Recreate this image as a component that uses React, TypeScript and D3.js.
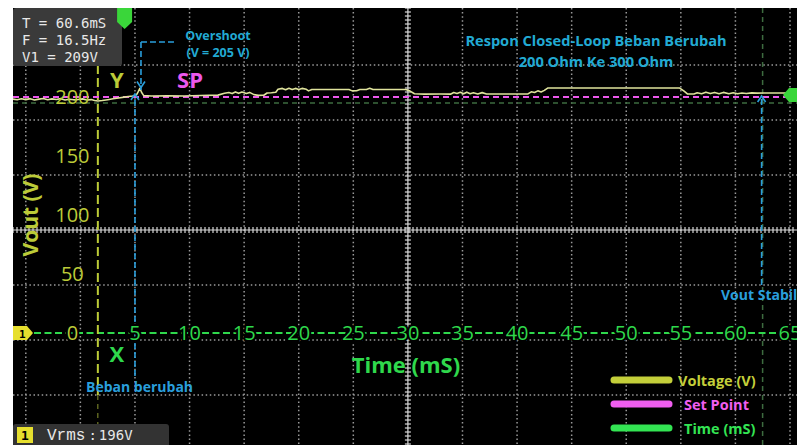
import React from 'react';
import * as d3 from 'd3';

const W = 797;
const H = 445;

// Voltage trace (time in ms, voltage in V)
const timeMs = [
  -6.2, -5.8, -5.4, -5.0, -4.6, -4.2, -3.8, -3.4, -3.0, -2.6, -2.2, -1.8, -1.4, -1.0, -0.6, -0.2, 0.2, 0.6, 1.0, 1.3, 1.6,
  2.0, 2.5, 3.0, 3.5, 4.0, 4.4, 4.8, 5.15, 5.3, 5.45, 5.6, 5.8, 6.5, 8.0, 9.5, 11.0, 12.6,
  13.2, 13.6, 13.9, 14.2, 14.5, 14.8, 15.2, 15.5, 15.9, 16.3, 16.8, 17.1, 17.5, 17.9,
  18.1, 18.5, 18.8, 19.1, 19.4, 19.7, 20.0, 20.3, 20.7, 20.9, 21.2, 22.5, 24.0, 24.6, 24.9, 25.3, 25.6, 26.2, 26.5, 26.8, 28.5, 29.8,
  30.2, 30.6, 31.5, 33.0, 33.9, 34.2, 34.5, 34.8, 35.1, 35.4, 35.7, 36.0, 36.4, 36.8, 37.2, 39.0, 41.0,
  41.3, 41.6, 41.9, 42.2, 42.5, 42.8, 48.0, 54.9, 55.3, 55.6, 56.2, 56.5, 56.9, 57.3, 57.7, 58.1, 58.5, 58.9, 59.4, 59.8,
  60.2, 60.6, 61.0, 61.5, 62.0, 63.5, 65.7,
];
const voltage = [
  198.3, 197.6, 198.5, 197.8, 198.6, 197.5, 198.2, 198.7, 197.7, 198.4, 197.9, 198.6, 197.4, 198.1, 197.6, 197.9, 198.4, 197.5, 197.8, 197.1, 196.6,
  197.0, 197.7, 198.5, 199.2, 199.9, 200.4, 200.8, 202.0, 204.5, 207.4, 204.0, 201.2, 200.9, 201.1, 200.9, 201.3, 201.6,
  203.2, 203.8, 202.9, 204.3, 203.1, 204.2, 203.0, 203.9, 202.0, 201.4, 201.5, 203.4, 203.6, 204.0,
  206.6, 207.3, 206.2, 207.4, 206.3, 207.3, 206.4, 207.3, 206.5, 205.2, 206.4, 206.3, 206.3, 206.4, 205.2, 205.3, 206.3, 206.4, 207.4, 206.3, 206.3, 206.3,
  205.0, 202.8, 202.4, 202.5, 202.4, 203.8, 203.0, 204.0, 202.7, 204.1, 202.8, 203.6, 202.6, 203.7, 202.5, 202.5, 202.6,
  204.4, 203.8, 205.2, 204.3, 205.6, 207.6, 207.6, 207.6, 205.0, 202.6, 202.6, 203.6, 202.7, 204.1, 202.9, 203.9, 202.8, 203.9, 202.8, 203.6,
  202.8, 203.4, 202.9, 203.5, 203.3, 203.4, 203.4,
];
const setPoint = 200;
const triggerLevel = 195;

const yTicks = [0, 50, 100, 150, 200];
const xTicks = [5, 10, 15, 20, 25, 30, 35, 40, 45, 50, 55, 60, 65];
const gridTimes = [-5, 0, 5, 10, 15, 20, 25, 35, 40, 45, 50, 55, 60, 65];
const gridRows = [-3, -2, -1, 1, 2, 3];
const centerTime = 30;

const infoLines = ['T = 60.6mS', 'F = 16.5Hz', 'V1 = 209V'];
const titleLines = ['Respon Closed-Loop Beban Berubah', '200 Ohm Ke 300 Ohm'];
const overshootLines = ['Overshoot', '(V = 205 V)'];
const legendLabels = ['Voltage (V)', 'Set Point', 'Time (mS)'];
const legendColors = ['#c4cf3a', '#f05ef0', '#33e453'];

const cursorYTime = 1.6;
const loadChangeTime = 5;
const overshootTime = 5.55;
const stableTime = 62.4;
const triggerTime = 4.05;

const YG = '#bccb38';
const GREEN = '#2fd84c';
const MAG = '#ec58ec';
const BLUE = '#2a9fdc';
const CYAN = '#22aad3';
const FONT = "'Open Sans', 'DejaVu Sans', sans-serif";
const MONO = "'DejaVu Sans Mono', monospace";

export default function App() {
  const x = d3.scaleLinear().domain([-5, 65]).range([25.8, 790]);
  const y = d3.scaleLinear().domain([0, 200]).range([333, 97]);
  const div = d3.scaleLinear().domain([-4, 4]).range([10, 450]);

  const left = 13;
  const top = 8;

  const pts: [number, number][] = timeMs.map((t, i) => [t, voltage[i]]);
  const line = d3
    .line<[number, number]>()
    .x((d) => x(d[0]))
    .y((d) => y(d[1]));

  const cx = x(centerTime);
  const cy = div(0);
  const ticksV = d3.range(top, H, 4);
  const ticksH = d3.range(left, W, 4);

  const xY = x(cursorYTime);
  const xL = x(loadChangeTime);
  const xO = x(overshootTime);
  const xS = x(stableTime);
  const ySP = y(setPoint);

  const chevUp = (px: number, py: number) => `M${px - 4},${py + 6} L${px},${py} L${px + 4},${py + 6}`;
  const chevDown = (px: number, py: number) => `M${px - 4},${py - 6} L${px},${py} L${px + 4},${py - 6}`;

  return (
    <svg
      width={W}
      height={H}
      style={{ position: 'fixed', left: 0, top: 0, display: 'block' }}
      xmlns="http://www.w3.org/2000/svg"
    >
      <defs>
        <clipPath id="screen">
          <rect x={left} y={top} width={W - left} height={H - top} />
        </clipPath>
      </defs>
      <rect x={0} y={0} width={W} height={H} fill="#ffffff" />
      <rect x={left} y={top} width={W - left} height={H - top} fill="#000000" />

      <g clipPath="url(#screen)">
        {/* dotted grid */}
        {gridTimes.map((t) => (
          <line key={'gv' + t} x1={x(t)} x2={x(t)} y1={top} y2={H} stroke="#9a9a9a" strokeWidth={1.5} strokeDasharray="1.5 2.6" />
        ))}
        {gridRows.map((r) => (
          <line key={'gh' + r} x1={left} x2={W} y1={div(r)} y2={div(r)} stroke="#9a9a9a" strokeWidth={1.5} strokeDasharray="1.5 2.6" />
        ))}
        {/* center crosshair */}
        <line x1={cx} x2={cx} y1={top} y2={H} stroke="#d8d8d8" strokeWidth={1.2} />
        <line x1={left} x2={W} y1={cy} y2={cy} stroke="#d8d8d8" strokeWidth={1.2} />
        {ticksV.map((v) => (
          <line key={'tv' + v} x1={cx - 3} x2={cx + 3} y1={v} y2={v} stroke="#d8d8d8" strokeWidth={1.2} />
        ))}
        {ticksH.map((h) => (
          <line key={'th' + h} x1={h} x2={h} y1={cy - 3} y2={cy + 3} stroke="#d8d8d8" strokeWidth={1.2} />
        ))}

        {/* trigger level */}
        <line x1={left} x2={W} y1={y(triggerLevel)} y2={y(triggerLevel)} stroke="#3d6b3f" strokeWidth={1.5} strokeDasharray="5 4" />
        {/* stable cursor (dim green) */}
        <line x1={xS + 1} x2={xS + 1} y1={top} y2={H} stroke="#3d6b3f" strokeWidth={1.5} strokeDasharray="5 4" />

        {/* zero / time axis line */}
        <line x1={left} x2={W} y1={y(0)} y2={y(0)} stroke={GREEN} strokeWidth={2} strokeDasharray="7 3.5" />

        {/* Y cursor */}
        <line x1={xY} x2={xY} y1={div(-3)} y2={div(3)} stroke={YG} strokeWidth={2} strokeDasharray="9 4" />
        <line x1={xY} x2={xY} y1={div(3)} y2={H} stroke="#8a9530" strokeWidth={1} strokeDasharray="5 4" />

        {/* Set point */}
        <line x1={left} x2={W} y1={ySP} y2={ySP} stroke={MAG} strokeWidth={2} strokeDasharray="6 4" />

        {/* Voltage trace */}
        <path d={line(pts) || ''} fill="none" stroke="#dfe39c" strokeWidth={1.6} strokeLinejoin="round" />

        {/* Load change line */}
        <line x1={xL} x2={xL} y1={ySP + 3} y2={377} stroke={BLUE} strokeWidth={1.6} strokeDasharray="6 3" />
        <path d={chevUp(xL, ySP - 3)} fill="none" stroke={BLUE} strokeWidth={1.6} />

        {/* Overshoot annotation */}
        <line x1={xO} x2={xO} y1={42} y2={y(206)} stroke={BLUE} strokeWidth={1.6} strokeDasharray="6 3" />
        <line x1={xO} x2={xO + 36} y1={42} y2={42} stroke={BLUE} strokeWidth={1.6} strokeDasharray="6 3" />
        <path d={chevDown(xO, y(208))} fill="none" stroke={BLUE} strokeWidth={1.6} />

        {/* Stable line */}
        <line x1={xS} x2={xS} y1={ySP + 2} y2={286} stroke={BLUE} strokeWidth={1.6} strokeDasharray="6 3" />
        <path d={chevUp(xS, ySP - 1)} fill="none" stroke={BLUE} strokeWidth={1.6} />

        {/* Y tick labels */}
        {yTicks.map((v) => (
          <text
            key={'yt' + v}
            x={x(0) - 8}
            y={y(v) + 7}
            textAnchor="middle"
            fontFamily={FONT}
            fontSize={20}
            fill={YG}
            stroke="#000"
            strokeWidth={v === 0 ? 4 : 0}
            paintOrder="stroke"
          >
            {v}
          </text>
        ))}
        {/* X tick labels */}
        {xTicks.map((t) => (
          <text
            key={'xt' + t}
            x={x(t)}
            y={y(0) + 7}
            textAnchor="middle"
            fontFamily={FONT}
            fontSize={20}
            fill={GREEN}
            stroke="#000"
            strokeWidth={4}
            paintOrder="stroke"
          >
            {t}
          </text>
        ))}

        {/* Axis titles */}
        <text
          transform={`translate(38,${y(100)}) rotate(-90)`}
          textAnchor="middle"
          fontFamily={FONT}
          fontWeight="bold"
          fontSize={21}
          fill={YG}
        >
          Vout (V)
        </text>
        <text x={x(30) - 2} y={373} textAnchor="middle" fontFamily={FONT} fontWeight="bold" fontSize={22} fill={GREEN}>
          Time (mS)
        </text>

        {/* Cursor letters */}
        <text x={xY + 19} y={88} textAnchor="middle" fontFamily={FONT} fontWeight="bold" fontSize={22} fill={YG}>
          Y
        </text>
        <text x={xY + 19} y={362} textAnchor="middle" fontFamily={FONT} fontWeight="bold" fontSize={22} fill={GREEN}>
          X
        </text>
        <text x={190} y={88} textAnchor="middle" fontFamily={FONT} fontWeight="bold" fontSize={22} fill={MAG}>
          SP
        </text>

        {/* annotations */}
        {overshootLines.map((s, i) => (
          <text key={s} x={218} y={40 + i * 17} textAnchor="middle" fontFamily={FONT} fontWeight="bold" fontSize={12.5} fill={CYAN}>
            {s}
          </text>
        ))}
        {titleLines.map((s, i) => (
          <text key={s} x={596} y={46 + i * 21} textAnchor="middle" fontFamily={FONT} fontWeight="bold" fontSize={14.6} fill={CYAN}>
            {s}
          </text>
        ))}
        <text x={86} y={392} fontFamily={FONT} fontWeight="bold" fontSize={14} fill={BLUE}>
          Beban berubah
        </text>
        <text x={721} y={300} fontFamily={FONT} fontWeight="bold" fontSize={14} fill={BLUE}>
          Vout Stabil
        </text>

        {/* Legend */}
        {legendLabels.map((s, i) => {
          const ly = 380 + i * 24;
          return (
            <g key={s}>
              <line x1={614} x2={669} y1={ly} y2={ly} stroke={legendColors[i]} strokeWidth={7} strokeLinecap="round" />
              <text x={i === 0 ? 678 : 684} y={ly + 5.5} fontFamily={FONT} fontWeight="bold" fontSize={14.5} fill={legendColors[i]}>
                {s}
              </text>
            </g>
          );
        })}

        {/* Info box */}
        <rect x={left} y={top} width={109} height={58} fill="#3a3a3a" rx={3} />
        {infoLines.map((s, i) => (
          <text key={s} x={22} y={28 + i * 17} fontFamily={MONO} fontSize={14} fill="#e8e8e8" xmlSpace="preserve">
            {s}
          </text>
        ))}
        <path
          d={`M${x(triggerTime) - 7.5},${top} L${x(triggerTime) + 7.5},${top} L${x(triggerTime) + 7.5},${top + 14} L${x(triggerTime)},${top + 21} L${x(triggerTime) - 7.5},${top + 14} Z`}
          fill="#3ad63a"
        />

        {/* Right trigger-level marker */}
        <path
          d={`M${W - 14},${ySP - 2} L${W - 8},${ySP - 9} L${W},${ySP - 9} L${W},${ySP + 5} L${W - 8},${ySP + 5} Z`}
          fill="#3ad63a"
        />

        {/* Channel 1 marker */}
        <path d={`M${left},${y(0) - 7} L${left + 14},${y(0) - 7} L${left + 20},${y(0)} L${left + 14},${y(0) + 7} L${left},${y(0) + 7} Z`} fill="#e6df2e" />
        <text x={left + 6} y={y(0) + 4.5} fontFamily={MONO} fontWeight="bold" fontSize={11} fill="#000">
          1
        </text>

        {/* Bottom measurement box */}
        <rect x={left} y={424} width={156} height={24} fill="#333333" rx={3} />
        <rect x={17} y={427} width={16} height={16} fill="#e6df2e" />
        <text x={25} y={440} textAnchor="middle" fontFamily={MONO} fontWeight="bold" fontSize={13} fill="#000">
          1
        </text>
        <text x={47} y={440} fontFamily="'Liberation Mono', monospace" fontSize={16} fill="#e8e8e8">
          Vrms
          <tspan dx={3} fontFamily={MONO} fontSize={14}>:</tspan>
          <tspan dx={2} fontFamily={MONO} fontSize={14}>196V</tspan>
        </text>
      </g>
    </svg>
  );
}
